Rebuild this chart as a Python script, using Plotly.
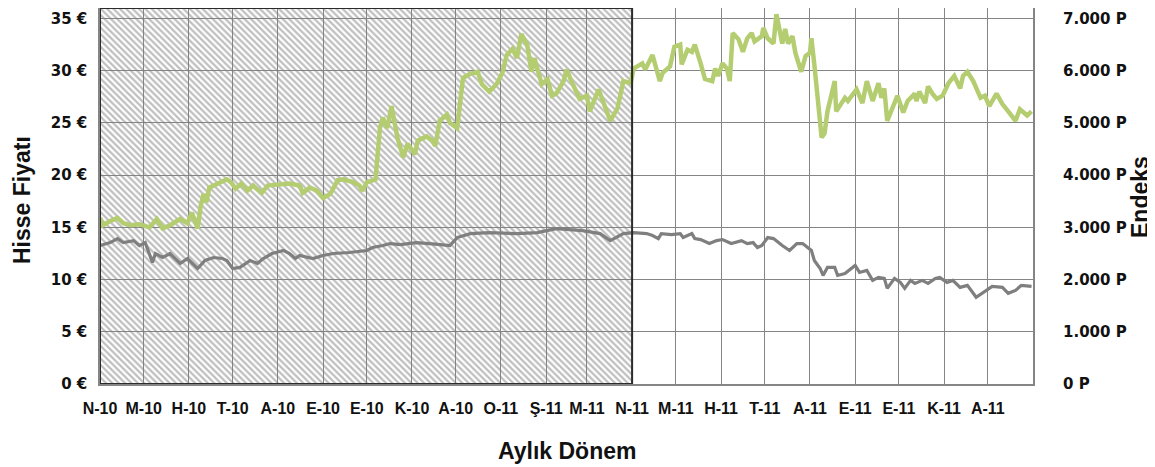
import plotly.graph_objects as go
import pandas as pd

# ---------------- data ----------------
start_date = "2010-04-01"
end_date = "2012-01-01"
hatch_start = "2010-04-01"
hatch_end = "2011-04-01"

month_labels = ["N-10", "M-10", "H-10", "T-10", "A-10", "E-10", "E-10", "K-10",
                "A-10", "O-11", "Ş-11", "M-11", "N-11", "M-11", "H-11", "T-11",
                "A-11", "E-11", "E-11", "K-11", "A-11"]

# share price (EUR), day offsets from start_date
price_days = [0, 2, 7, 12, 16, 21, 27, 34, 39, 43, 48, 55, 60, 63, 67, 69, 71, 73, 75,
              82, 87, 90, 93, 97, 101, 105, 111, 115, 123, 130, 137, 139, 144, 149, 153,
              158, 163, 167, 174, 178, 180, 183, 187, 189, 192, 194, 197, 200, 204, 208,
              211, 216, 218, 224, 228, 230, 233, 238, 240, 245, 249, 254, 259, 262, 267,
              272, 276, 279, 283, 286, 289, 293, 296, 298, 303, 307, 310, 313, 318, 320,
              324, 329, 334, 336, 342, 345, 350, 355, 359, 364, 366, 372, 374, 379, 384,
              386, 391, 394, 398, 399, 403, 406, 408, 412, 415, 420, 422, 424, 427, 430,
              432, 434, 438, 441, 444, 447, 449, 454, 455, 458, 462, 464, 468, 470, 472,
              475, 477, 481, 484, 487, 488, 490, 492, 495, 497, 499, 504, 505, 511, 513,
              519, 523, 526, 530, 534, 536, 538, 540, 547, 551, 554, 559, 560, 562, 566,
              568, 571, 574, 578, 582, 586, 590, 592, 595, 599, 604, 607, 610, 615, 619,
              623, 628, 631, 636, 639]
price_vals = [15.9, 15.2, 15.6, 15.9, 15.4, 15.2, 15.3, 15.0, 15.8, 14.9, 15.2, 15.8, 15.4,
              16.4, 14.9, 17.0, 18.2, 17.4, 18.8,
              19.3, 19.6, 19.3, 18.7, 19.2, 18.5, 19.0, 18.3, 19.0, 19.1, 19.2, 19.0, 18.3,
              18.8, 18.5, 17.8, 18.2, 19.5, 19.6, 19.3, 19.0, 18.5, 19.3, 19.5, 19.6, 24.5,
              25.5, 24.5, 26.6, 23.6, 21.7, 23.0, 22.0, 23.3, 23.7, 23.3, 22.8, 25.2, 25.8,
              25.0, 24.5, 29.3, 29.7, 29.9, 28.7, 28.0, 28.7, 29.8, 31.5, 32.1, 31.2, 33.5,
              32.5, 29.9, 31.2, 28.7, 29.2, 27.6, 27.8, 29.0, 30.1, 28.8, 27.3, 27.6, 26.1,
              28.2, 27.1, 25.2, 26.4, 29.0, 28.8, 30.2, 30.7, 30.1, 31.5, 29.0, 29.8, 30.4,
              32.3, 32.5, 30.6, 32.0, 31.8, 32.5, 30.7, 29.2, 29.0, 30.2, 29.5, 30.7, 30.2,
              29.0, 33.6, 33.0, 31.8, 33.1, 33.6, 32.8, 33.3, 34.1, 33.1, 32.6, 35.4, 32.6,
              34.0, 32.6, 33.3, 31.7, 29.9, 31.4, 31.7, 33.1, 30.6, 28.0, 23.6, 24.0, 26.1,
              29.0, 26.1, 27.4, 27.1, 28.2, 26.9, 29.0, 27.1, 28.8, 27.4, 28.3, 25.2, 27.6,
              26.0, 27.1, 27.8, 27.1, 28.0, 26.9, 28.5, 27.8, 27.3, 27.6, 28.8, 29.5, 28.3,
              29.5, 29.9, 29.0, 27.4, 27.6, 26.6, 27.8, 26.8, 26.1, 25.2, 26.3, 25.7, 26.1]

# index (points), day offsets from start_date
index_days = [0, 7, 12, 16, 23, 27, 31, 36, 38, 43, 48, 55, 60, 63, 67, 72, 78, 84, 87, 91,
              96, 103, 108, 112, 118, 126, 130, 134, 137, 146, 153, 160, 171, 183, 187, 194,
              199, 206, 217, 230, 240, 245, 254, 267, 286, 300, 313, 331, 343, 350, 359, 366,
              375, 379, 383, 385, 392, 398, 400, 406, 408, 412, 418, 423, 427, 433, 440, 444,
              448, 451, 454, 458, 462, 468, 473, 478, 482, 488, 490, 494, 496, 499, 504, 506,
              511, 518, 521, 526, 530, 534, 538, 540, 545, 549, 552, 556, 559, 564, 568, 573,
              576, 581, 585, 590, 595, 601, 608, 612, 619, 623, 628, 632, 639]
index_vals = [2651, 2708, 2785, 2708, 2746, 2651, 2708, 2327, 2499, 2422, 2499, 2308, 2403,
              2327, 2212, 2365, 2422, 2403, 2365, 2212, 2232, 2365, 2308, 2403, 2499, 2556,
              2499, 2403, 2461, 2403, 2461, 2499, 2518, 2556, 2613, 2651, 2689, 2670, 2708,
              2680, 2651, 2804, 2880, 2899, 2880, 2899, 2975, 2937, 2880, 2746, 2880, 2899,
              2880, 2842, 2785, 2880, 2861, 2880, 2804, 2880, 2785, 2766, 2689, 2746, 2766,
              2689, 2746, 2689, 2708, 2613, 2651, 2804, 2785, 2651, 2556, 2689, 2689, 2556,
              2365, 2212, 2079, 2232, 2232, 2079, 2117, 2270, 2136, 2174, 1984, 2041, 2022,
              1831, 2022, 1946, 1831, 1984, 1927, 1984, 1927, 2022, 2041, 1946, 1984, 1850,
              1888, 1660, 1793, 1869, 1850, 1736, 1793, 1888, 1869]

price_ticks = [0, 5, 10, 15, 20, 25, 30, 35]
price_tick_text = ["0 €", "5 €", "10 €", "15 €", "20 €", "25 €", "30 €", "35 €"]
index_ticks = [0, 1000, 2000, 3000, 4000, 5000, 6000, 7000]
index_tick_text = ["0 P", "1.000 P", "2.000 P", "3.000 P", "4.000 P", "5.000 P", "6.000 P", "7.000 P"]
price_max = 36
index_max = 7200

# ---------------- figure ----------------
t0 = pd.Timestamp(start_date)
price_x = [t0 + pd.Timedelta(days=d) for d in price_days]
index_x = [t0 + pd.Timedelta(days=d) for d in index_days]
month_starts = pd.date_range(start_date, periods=len(month_labels), freq="MS")

GREEN = "#b5cd71"
GREY = "#7f7f7f"
GRID = "#858585"

fig = go.Figure()

# hatched period
fig.add_trace(go.Scatter(
    x=[hatch_start, hatch_start, hatch_end, hatch_end, hatch_start],
    y=[0, price_max, price_max, 0, 0],
    mode="lines", fill="toself",
    fillcolor="rgba(0,0,0,0)",
    fillpattern=dict(shape="\\", fgcolor="#7d7d7d", bgcolor="rgba(0,0,0,0)",
                     size=4.5, solidity=0.5),
    line=dict(width=0, color="rgba(0,0,0,0)"),
    hoverinfo="skip", showlegend=False,
))

fig.add_trace(go.Scatter(
    x=price_x, y=price_vals, mode="lines",
    line=dict(color=GREEN, width=4.5), name="Hisse", showlegend=False,
))

fig.add_trace(go.Scatter(
    x=index_x, y=index_vals, mode="lines", yaxis="y2",
    line=dict(color=GREY, width=3.2), name="Endeks", showlegend=False,
))

fig.add_shape(type="rect", xref="x", yref="y",
              x0=hatch_start, x1=hatch_end, y0=0, y1=price_max,
              line=dict(color="#2b2b2b", width=2), fillcolor="rgba(0,0,0,0)",
              layer="above")

tick_font_v = dict(family="DejaVu Sans", size=15, color="#111111", weight="bold")
tick_font_a = dict(family="Liberation Sans", size=16, color="#111111", weight="bold")
title_font = dict(family="Liberation Sans", size=23, color="#111111", weight="bold")

# page body has an 8px margin: figure is shifted by 8px right and down
PLOT_W = 933.0
PLOT_H = 376.0

fig.update_layout(
    width=1147, height=459,
    margin=dict(l=92, r=122, t=0, b=83),
    paper_bgcolor="white", plot_bgcolor="white",
    showlegend=False,
    xaxis=dict(
        type="date", range=[start_date, end_date],
        tickvals=list(month_starts), ticktext=month_labels,
        showgrid=True, gridcolor=GRID, gridwidth=1,
        showline=True, linecolor=GRID, linewidth=1.5, mirror=True,
        ticks="outside", ticklen=9, tickcolor="rgba(0,0,0,0)",
        tickfont=tick_font_a, zeroline=False, automargin=False,
    ),
    yaxis=dict(
        range=[0, price_max], tickvals=price_ticks, ticktext=price_tick_text,
        showgrid=True, gridcolor=GRID, gridwidth=1,
        showline=True, linecolor=GRID, linewidth=1.5, mirror=True,
        ticks="outside", ticklen=8, tickcolor="rgba(0,0,0,0)",
        tickfont=tick_font_v, zeroline=False, automargin=False,
    ),
    yaxis2=dict(
        range=[0, index_max], tickvals=index_ticks, ticktext=index_tick_text,
        overlaying="y", side="right", showgrid=False,
        ticks="outside", ticklen=26, tickcolor="rgba(0,0,0,0)",
        tickfont=tick_font_v, zeroline=False, automargin=False,
    ),
    annotations=[
        dict(text="Hisse Fiyatı", xref="paper", yref="paper", x=(22 - 100) / PLOT_W,
             y=(384 - 200) / PLOT_H,
             textangle=-90, showarrow=False, font=title_font,
             xanchor="center", yanchor="middle"),
        dict(text="Endeks", xref="paper", yref="paper", x=(1140 - 100) / PLOT_W,
             y=(384 - 197) / PLOT_H,
             textangle=-90, showarrow=False, font=title_font,
             xanchor="center", yanchor="middle"),
        dict(text="Aylık Dönem", xref="paper", yref="paper", x=(567 - 100) / PLOT_W,
             y=(384 - 451) / PLOT_H,
             showarrow=False, font=title_font, xanchor="center", yanchor="middle"),
    ],
)

fig.write_html("out.html")
